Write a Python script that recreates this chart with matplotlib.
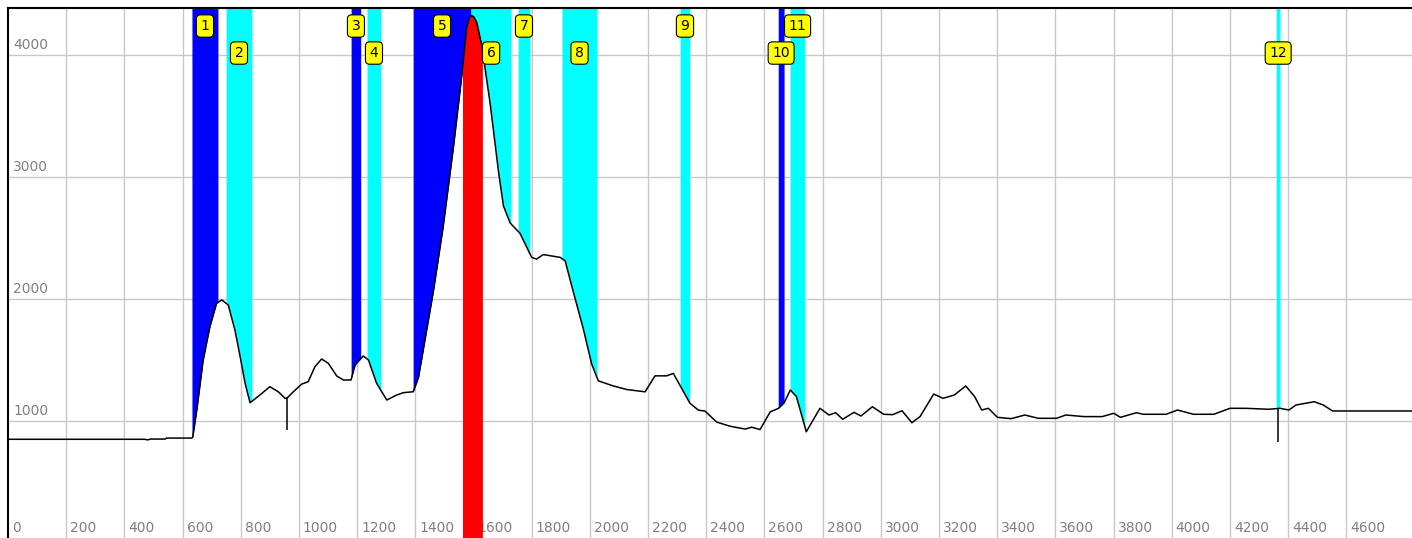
import matplotlib
matplotlib.use("Agg")
import matplotlib.pyplot as plt
import numpy as np

# elevation profile (distance, height)
profile_x = [0, 470, 480, 490, 540, 545, 630,
             635, 649, 671, 694, 717, 735, 757, 780, 798, 815, 832, 866, 900, 929, 952, 960,
             981, 1010, 1032, 1055, 1078, 1101, 1130, 1153, 1179, 1193, 1221, 1239, 1267, 1302,
             1336, 1359, 1393, 1411, 1462, 1496, 1531, 1560, 1577, 1586, 1594, 1601, 1611, 1628,
             1657, 1686, 1703, 1726, 1760, 1800, 1817, 1840, 1898, 1915, 1943, 1978, 2006, 2029,
             2081, 2127, 2190, 2224, 2264, 2287, 2344, 2373, 2396, 2436, 2482, 2534, 2556, 2585,
             2620, 2648, 2668, 2689, 2710, 2744, 2791, 2822, 2845, 2869, 2908, 2932, 2971, 3010,
             3041, 3073, 3107, 3135, 3182, 3214, 3253, 3292, 3323, 3347, 3370, 3401, 3448, 3495,
             3542, 3604, 3636, 3699, 3761, 3801, 3824, 3879, 3902, 3981, 4020, 4075, 4145, 4200,
             4255, 4333, 4372, 4403, 4427, 4490, 4521, 4553, 4826]
profile_y = [850, 850, 845, 852, 852, 860, 860,
             866, 1090, 1500, 1773, 1965, 1992, 1951, 1746, 1527, 1309, 1150, 1213, 1281, 1240, 1186, 1190,
             1240, 1303, 1322, 1445, 1508, 1473, 1369, 1336, 1336, 1459, 1533, 1500, 1309, 1172,
             1213, 1232, 1240, 1357, 2060, 2594, 3241, 3832, 4225, 4300, 4324, 4312, 4268, 4085,
             3607, 3044, 2763, 2623, 2538, 2341, 2327, 2364, 2341, 2313, 2060, 1751, 1469, 1329,
             1287, 1258, 1239, 1370, 1370, 1390, 1146, 1089, 1081, 991, 957, 934, 949, 930,
             1075, 1103, 1150, 1254, 1200, 912, 1104, 1049, 1068, 1014, 1071, 1041, 1117, 1055,
             1052, 1084, 986, 1036, 1221, 1186, 1213, 1287, 1199, 1090, 1104, 1030, 1019, 1049,
             1022, 1022, 1049, 1036, 1036, 1063, 1030, 1068, 1055, 1055, 1090, 1055, 1055, 1104,
             1104, 1096, 1104, 1090, 1131, 1158, 1131, 1082, 1082]

# small downward markers
spike_x = [960, 4365]
spike_low = [926, 830]

# numbered sections
band_start = [632, 749, 1179, 1234, 1392, 1592, 1753, 1904, 2310, 2647, 2688, 4359]
band_end = [722, 839, 1213, 1282, 1592, 1729, 1794, 2025, 2344, 2668, 2740, 4373]
band_color = ['#0000ff', '#00ffff', '#0000ff', '#00ffff', '#0000ff', '#00ffff',
              '#00ffff', '#00ffff', '#00ffff', '#0000ff', '#00ffff', '#00ffff']
band_label = ['1', '2', '3', '4', '5', '6', '7', '8', '9', '10', '11', '12']

red_start, red_end = 1562, 1631

x_ticks = list(range(0, 4800, 200))
y_ticks = [1000, 2000, 3000, 4000]

x_max = 4826
y_min, y_max = 41, 4385

fig = plt.figure(figsize=(14.12, 5.38), dpi=100)
ax = fig.add_axes([8 / 1412, 0, 1 - 8 / 1412, 530 / 538])
ax.set_xlim(0, x_max)
ax.set_ylim(y_min, y_max)

grid_col = '#c8c8c8'
for v in x_ticks[1:]:
    ax.axvline(v, color=grid_col, lw=1, zorder=0)
for v in y_ticks:
    ax.axhline(v, color=grid_col, lw=1, zorder=0)

xs = np.linspace(0, x_max, 6000)
ys = np.interp(xs, profile_x, profile_y)

for s, e, c in zip(band_start, band_end, band_color):
    m = (xs >= s) & (xs <= e)
    ax.fill_between(xs[m], ys[m], y_max, color=c, lw=0, zorder=2)

m = (xs >= red_start) & (xs <= red_end)
ax.fill_between(xs[m], y_min, ys[m], color='#ff0000', lw=0, zorder=2)

ax.plot(profile_x, profile_y, color='black', lw=1.1, zorder=4)
for sx, sl in zip(spike_x, spike_low):
    ax.vlines(sx, sl, np.interp(sx, profile_x, profile_y), color='black', lw=1.1, zorder=4)

# labels of the sections, odd ones on the upper row
for i, (s, e, lab) in enumerate(zip(band_start, band_end, band_label)):
    yrow = 0.966 if i % 2 == 0 else 0.915
    ax.text((s + e) / 2, yrow, lab, transform=ax.get_xaxis_transform(),
            ha='center', va='center', fontsize=10, color='black', zorder=6,
            bbox=dict(boxstyle='round,pad=0.3,rounding_size=0.3', fc='#ffff00', ec='black', lw=0.8))

# tick labels drawn inside the plot
for v in x_ticks:
    ax.annotate(str(v), xy=(v, 0), xycoords=('data', 'axes fraction'),
                xytext=(4, 3), textcoords='offset pixels', ha='left', va='bottom',
                fontsize=10, color='#808080', zorder=1.5)
for v in y_ticks:
    ax.annotate(str(v), xy=(0, v), xycoords=('axes fraction', 'data'),
                xytext=(5, 3), textcoords='offset pixels', ha='left', va='bottom',
                fontsize=10, color='#808080', zorder=1.5)

ax.set_xticks([])
ax.set_yticks([])
for side in ['right', 'bottom']:
    ax.spines[side].set_visible(False)
ax.spines['left'].set_linewidth(1.5)
ax.spines['top'].set_linewidth(1.5)

fig.savefig('out.png', dpi=100)
